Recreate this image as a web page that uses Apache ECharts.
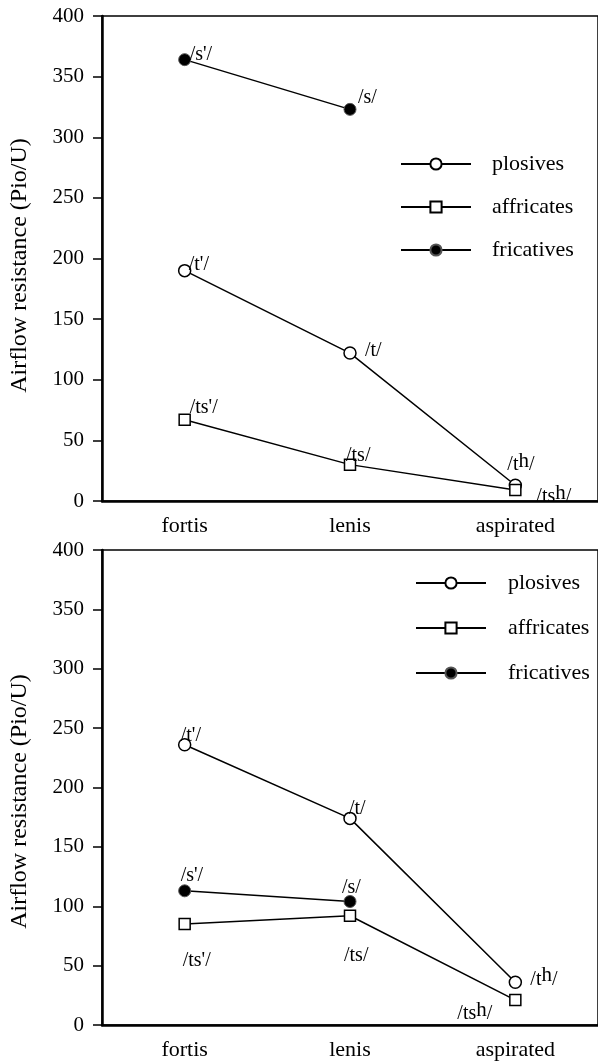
<!DOCTYPE html>
<html>
<head>
<meta charset="utf-8">
<script src="https://cdn.jsdelivr.net/npm/echarts@6/dist/echarts.min.js"></script>
<style>
html,body{margin:0;padding:0;background:#fff;}
#chart{width:598px;height:1064px;}
</style>
</head>
<body>
<div id="chart"></div>
<script>
// ---------- data ----------
const categories = ["fortis", "lenis", "aspirated"];
const seriesNames = ["plosives", "affricates", "fricatives"];
const yTicks = { min: 0, max: 400, interval: 50 };
const yTitle = "Airflow resistance (Pio/U)";

// top panel
const topPlosives   = [190, 122, 13];
const topAffricates = [67, 30, 9];
const topFricatives = [364, 323, null];
const topPlosiveLabels   = ["/t'/", "/t/", "/tʰ/"];
const topAffricateLabels = ["/ts'/", "/ts/", "/tsʰ/"];
const topFricativeLabels = ["/s'/", "/s/", ""];

// bottom panel
const botPlosives   = [236, 174, 36];
const botAffricates = [85, 92, 21];
const botFricatives = [113, 104, null];
const botPlosiveLabels   = ["/t'/", "/t/", "/tʰ/"];
const botAffricateLabels = ["/ts'/", "/ts/", "/tsʰ/"];
const botFricativeLabels = ["/s'/", "/s/", ""];

// ---------- styling / layout ----------
const FONT = "Liberation Serif, Times New Roman, serif";
const labelOffsets = {
  top: {
    plosives:   [[4,-8],[15,-4],[-8,-22]],
    affricates: [[5,-14],[-4,-11],[21,5]],
    fricatives: [[5,-7],[8,-14],[0,0]]
  },
  bot: {
    plosives:   [[-4,-11],[-1,-12],[15,-5]],
    affricates: [[-2,35],[-6,38],[-58,12]],
    fricatives: [[-4,-17],[-8,-16],[0,0]]
  }
};
const symbolStyles = {
  plosives:   { symbol: 'circle', symbolSize: 12, itemStyle: { color: '#fff', borderColor: '#000', borderWidth: 1.5 } },
  affricates: { symbol: 'rect',   symbolSize: 11, itemStyle: { color: '#fff', borderColor: '#000', borderWidth: 1.5 } },
  fricatives: { symbol: 'circle', symbolSize: 12, itemStyle: { color: '#000', borderColor: '#555', borderWidth: 1 } }
};

function fmtLabel(s) {
  if (s.indexOf('ʰ') >= 0) {
    const parts = s.split('ʰ');
    return '{n|' + parts[0] + '}{h|h}{n|' + parts[1] + '}';
  }
  return '{n|' + s + '}';
}

function buildData(values, labels, offsets) {
  return values.map((v, i) => ({
    value: v,
    label: {
      show: !!labels[i],
      formatter: fmtLabel(labels[i] || ''),
      position: 'inside',
      align: 'left',
      verticalAlign: 'middle',
      offset: offsets[i],
      rich: {
        n: { fontFamily: FONT, fontSize: 20, color: '#000', lineHeight: 24, verticalAlign: 'bottom' },
        h: { fontFamily: FONT, fontSize: 21, color: '#000', lineHeight: 16, verticalAlign: 'top' }
      }
    }
  }));
}

function makeSeries(name, values, labels, offsets, gi) {
  const st = symbolStyles[name];
  return {
    name: name,
    type: 'line',
    xAxisIndex: gi,
    yAxisIndex: gi,
    data: buildData(values, labels, offsets),
    symbol: st.symbol,
    symbolSize: st.symbolSize,
    showAllSymbol: true,
    itemStyle: st.itemStyle,
    lineStyle: { color: '#000', width: 1.5 },
    emphasis: { disabled: true },
    animation: false,
    z: name === 'fricatives' ? 3 : 2
  };
}

function xAxisFor(gi) {
  return {
    type: 'category',
    gridIndex: gi,
    data: categories,
    boundaryGap: true,
    axisLine: { lineStyle: { color: '#000', width: 2.5 } },
    axisTick: { alignWithLabel: true, length: 8, lineStyle: { color: '#000', width: 1.5 } },
    axisLabel: { color: '#000', fontFamily: FONT, fontSize: 22, margin: 14 },
    splitLine: { show: false }
  };
}
function yAxisFor(gi, padBottomShift) {
  return {
    type: 'value',
    gridIndex: gi,
    min: yTicks.min, max: yTicks.max, interval: yTicks.interval,
    name: yTitle,
    nameLocation: 'middle',
    nameRotate: 90,
    nameGap: 70,
    nameTextStyle: { color: '#000', fontFamily: FONT, fontSize: 24, padding: [0, padBottomShift, 0, 0] },
    axisLine: { show: true, lineStyle: { color: '#000', width: 2.5 } },
    axisTick: { show: true, length: 9, lineStyle: { color: '#000', width: 1.5 } },
    axisLabel: { color: '#000', fontFamily: FONT, fontSize: 21, margin: 18 },
    splitLine: { show: false }
  };
}
function legendFor(left, top, gap, pad) {
  return {
    orient: 'vertical',
    left: left, top: top,
    itemWidth: 70, itemHeight: 14, itemGap: gap,
    data: seriesNames,
    selectedMode: false,
    textStyle: { color: '#000', fontFamily: FONT, fontSize: 22, lineHeight: 14, padding: [0, 0, 0, pad] }
  };
}

const chart = echarts.init(document.getElementById('chart'), null, { renderer: 'canvas' });
chart.setOption({
  backgroundColor: '#fff',
  animation: false,
  grid: [
    { left: 101, top: 16, width: 504, height: 485, show: true, borderColor: '#000', borderWidth: 1.5, backgroundColor: 'transparent' },
    { left: 100, top: 550, width: 507, height: 475, show: true, borderColor: '#000', borderWidth: 1.5, backgroundColor: 'transparent' }
  ],
  xAxis: [xAxisFor(0), xAxisFor(1)],
  yAxis: [yAxisFor(0, 14), yAxisFor(1, 28)],
  legend: [legendFor(395, 148, 21, 16), legendFor(410, 567, 23, 17)],
  series: [
    makeSeries('plosives',   topPlosives,   topPlosiveLabels,   labelOffsets.top.plosives, 0),
    makeSeries('affricates', topAffricates, topAffricateLabels, labelOffsets.top.affricates, 0),
    makeSeries('fricatives', topFricatives, topFricativeLabels, labelOffsets.top.fricatives, 0),
    makeSeries('plosives',   botPlosives,   botPlosiveLabels,   labelOffsets.bot.plosives, 1),
    makeSeries('affricates', botAffricates, botAffricateLabels, labelOffsets.bot.affricates, 1),
    makeSeries('fricatives', botFricatives, botFricativeLabels, labelOffsets.bot.fricatives, 1)
  ]
});
</script>
</body>
</html>
